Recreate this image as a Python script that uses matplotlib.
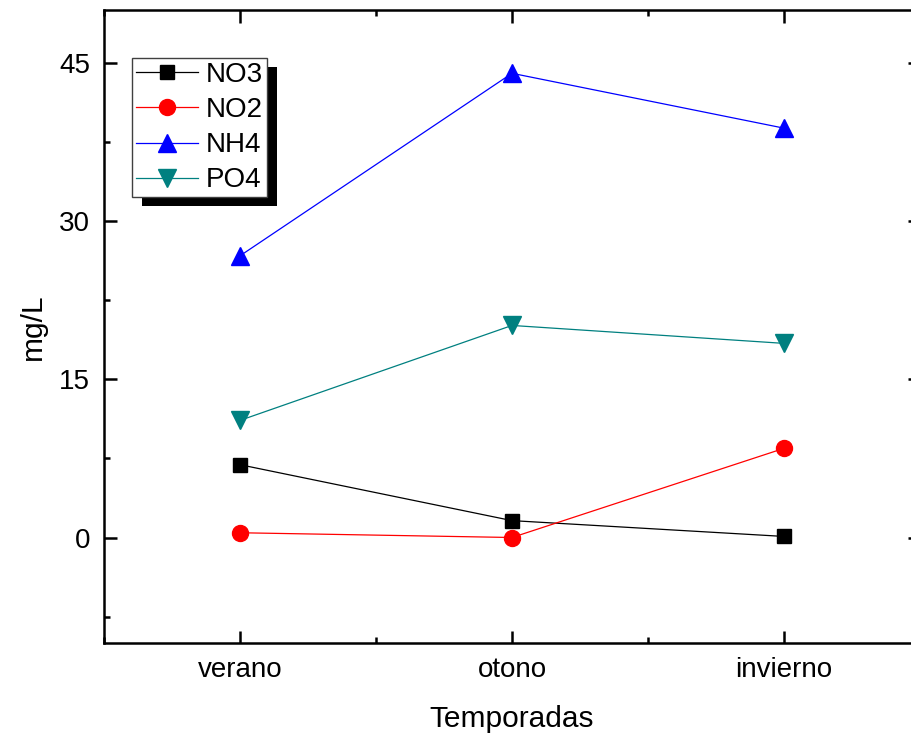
import matplotlib
matplotlib.use("Agg")
import matplotlib.pyplot as plt
from matplotlib.patches import Rectangle
from matplotlib.ticker import MultipleLocator

plt.rcParams['font.family'] = ['Liberation Sans', 'DejaVu Sans']

seasons = ["verano", "otono", "invierno"]
no3 = [6.9, 1.6, 0.1]
no2 = [0.45, 0.0, 8.45]
nh4 = [26.7, 44.0, 38.8]
po4 = [11.1, 20.1, 18.4]

W, H = 912, 741
fig = plt.figure(figsize=(W / 100, H / 100), dpi=100)
ax = fig.add_axes([104 / W, (H - 643) / H, (920 - 104) / W, (643 - 10) / H])

x = [1, 2, 3]
ax.plot(x, no3, color='black', lw=0.9, marker='s', ms=9.5, label='NO3')
ax.plot(x, no2, color='#FF0000', lw=0.9, marker='o', ms=11.5, label='NO2')
ax.plot(x, nh4, color='#0000FF', lw=0.9, marker='^', ms=13, label='NH4')
ax.plot(x, po4, color='#008080', lw=0.9, marker='v', ms=13, label='PO4')

ax.set_xlim(0.5, 3.5)
ax.set_ylim(-10, 50)
ax.set_xticks(x)
ax.set_xticklabels(seasons)
ax.xaxis.set_minor_locator(MultipleLocator(0.5))
ax.yaxis.set_major_locator(MultipleLocator(15))
ax.yaxis.set_minor_locator(MultipleLocator(7.5))
ax.tick_params(which='both', direction='in', top=True, right=True, width=1.8,
               labelsize=20)
ax.tick_params(which='major', length=9, pad=10)
ax.tick_params(which='minor', length=4.5)
for s in ax.spines.values():
    s.set_linewidth(1.8)

ax.set_xlabel('Temporadas', fontsize=21.5, labelpad=16)
ax.set_ylabel('mg/L', fontsize=21.5, labelpad=9)

leg = ax.legend(loc='upper left', bbox_to_anchor=(132 / W, 1 - 58 / H),
                bbox_transform=fig.transFigure, borderaxespad=0,
                fontsize=20, fancybox=False, frameon=True, edgecolor='#404040',
                framealpha=1, handlelength=2.23, handletextpad=0.29,
                labelspacing=0.33, borderpad=0.14)
leg.get_frame().set_linewidth(1.0)
leg.set_zorder(5)

fig.canvas.draw()
bb = leg.get_window_extent()
shadow = Rectangle((bb.x0 + 10, bb.y0 - 9), bb.width, bb.height,
                   transform=None, facecolor='black', edgecolor='none',
                   zorder=4, clip_on=False)
ax.add_artist(shadow)

fig.savefig('out.png', dpi=100)
